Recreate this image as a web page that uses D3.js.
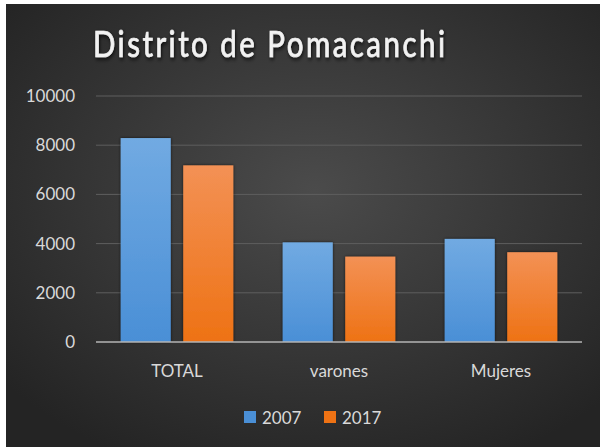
<!DOCTYPE html>
<html lang="es">
<head>
<meta charset="UTF-8">
<title>Distrito de Pomacanchi</title>
<script src="https://d3js.org/d3.v7.min.js"></script>
<style>
  html, body { margin: 0; padding: 0; background: #fff; }
  svg { display: block; }
  text { font-family: Lato, "Open Sans", sans-serif; }
</style>
</head>
<body>
<svg id="chart" width="600" height="447"></svg>
<script>
// data
const categories = ["TOTAL", "varones", "Mujeres"];
const years = ["2007", "2017"];
const values2007 = [8290, 4050, 4190];
const values2017 = [7180, 3470, 3650];
const yTicks = [0, 2000, 4000, 6000, 8000, 10000];

const svg = d3.select("#chart");
const defs = svg.append("defs");

// chart area background (radial dark gradient)
const bg = defs.append("radialGradient").attr("id", "bg")
  .attr("cx", "52%").attr("cy", "42%").attr("r", "68%");
bg.append("stop").attr("offset", "0%").attr("stop-color", "#4b4b4b");
bg.append("stop").attr("offset", "100%").attr("stop-color", "#242424");

const colors = {
  "2007": ["#71aae2", "#4a8fd6"],
  "2017": ["#f39155", "#ee7214"]
};
years.forEach(y => {
  const g = defs.append("linearGradient").attr("id", "g" + y)
    .attr("x1", 0).attr("y1", 0).attr("x2", 0).attr("y2", 1);
  g.append("stop").attr("offset", "0%").attr("stop-color", colors[y][0]);
  g.append("stop").attr("offset", "100%").attr("stop-color", colors[y][1]);
});

const shadow = defs.append("filter").attr("id", "shadow")
  .attr("x", "-20%").attr("y", "-20%").attr("width", "140%").attr("height", "140%");
shadow.append("feDropShadow").attr("dx", 0).attr("dy", 0)
  .attr("stdDeviation", 1.5).attr("flood-color", "#000").attr("flood-opacity", 0.7);

const tshadow = defs.append("filter").attr("id", "tshadow")
  .attr("x", "-10%").attr("y", "-30%").attr("width", "120%").attr("height", "160%");
tshadow.append("feDropShadow").attr("dx", 1).attr("dy", 2)
  .attr("stdDeviation", 2).attr("flood-color", "#000").attr("flood-opacity", 0.8);

svg.append("rect").attr("x", 6).attr("y", 4).attr("width", 594).attr("height", 443)
  .attr("fill", "url(#bg)");

// title (Calibri-like: narrowed glyphs, wide spacing)
const sx = 0.82;
svg.append("text")
  .attr("transform", `translate(93,57) scale(${sx},1)`)
  .attr("textLength", 352 / sx).attr("lengthAdjust", "spacing")
  .attr("fill", "#f2f2f2")
  .attr("font-size", 36).attr("font-weight", 400)
  .attr("stroke", "#f2f2f2").attr("stroke-width", 0.7)
  .attr("filter", "url(#tshadow)")
  .text("Distrito de Pomacanchi");

// scales
const x0 = d3.scaleBand().domain(categories).range([96, 582])
  .paddingInner(0.305).paddingOuter(0.1525);
const x1 = d3.scaleBand().domain(years).range([0, x0.bandwidth()]).paddingInner(0.2);
const y = d3.scaleLinear().domain([0, 10000]).range([342, 96]);

// gridlines
svg.append("g").selectAll("line")
  .data(yTicks.filter(d => d > 0))
  .join("line")
  .attr("x1", 96).attr("x2", 582)
  .attr("y1", d => y(d)).attr("y2", d => y(d))
  .attr("stroke", "#5e5e5e").attr("stroke-width", 1);

// y tick labels
svg.append("g").selectAll("text")
  .data(yTicks)
  .join("text")
  .attr("x", 75).attr("y", d => y(d)).attr("dy", "0.35em")
  .attr("text-anchor", "end")
  .attr("fill", "#d9d9d9").attr("font-size", 17)
  .text(d => d);

// bars
const series = { "2007": values2007, "2017": values2017 };
const groups = svg.append("g").selectAll("g")
  .data(categories)
  .join("g")
  .attr("transform", d => `translate(${x0(d)},0)`);

groups.selectAll("rect")
  .data((c, i) => years.map(yr => ({ yr, v: series[yr][i] })))
  .join("rect")
  .attr("x", d => x1(d.yr))
  .attr("y", d => y(d.v))
  .attr("width", x1.bandwidth())
  .attr("height", d => y(0) - y(d.v))
  .attr("fill", d => `url(#g${d.yr})`)
  .attr("filter", "url(#shadow)");

// baseline
svg.append("line")
  .attr("x1", 96).attr("x2", 582).attr("y1", y(0)).attr("y2", y(0))
  .attr("stroke", "#b5b5b5").attr("stroke-width", 1.5);

// category labels
svg.append("g").selectAll("text")
  .data(categories)
  .join("text")
  .attr("x", d => x0(d) + x0.bandwidth() / 2)
  .attr("y", 377)
  .attr("text-anchor", "middle")
  .attr("fill", "#d9d9d9").attr("font-size", 17)
  .text(d => d);

// legend
const legendX = [244, 324];
const legend = svg.append("g").selectAll("g")
  .data(years)
  .join("g")
  .attr("transform", (d, i) => `translate(${legendX[i]},411)`);
legend.append("rect")
  .attr("width", 12).attr("height", 12)
  .attr("fill", d => colors[d][1]);
legend.append("text")
  .attr("x", 18).attr("y", 13)
  .attr("fill", "#d9d9d9").attr("font-size", 17)
  .text(d => d);
</script>
</body>
</html>
